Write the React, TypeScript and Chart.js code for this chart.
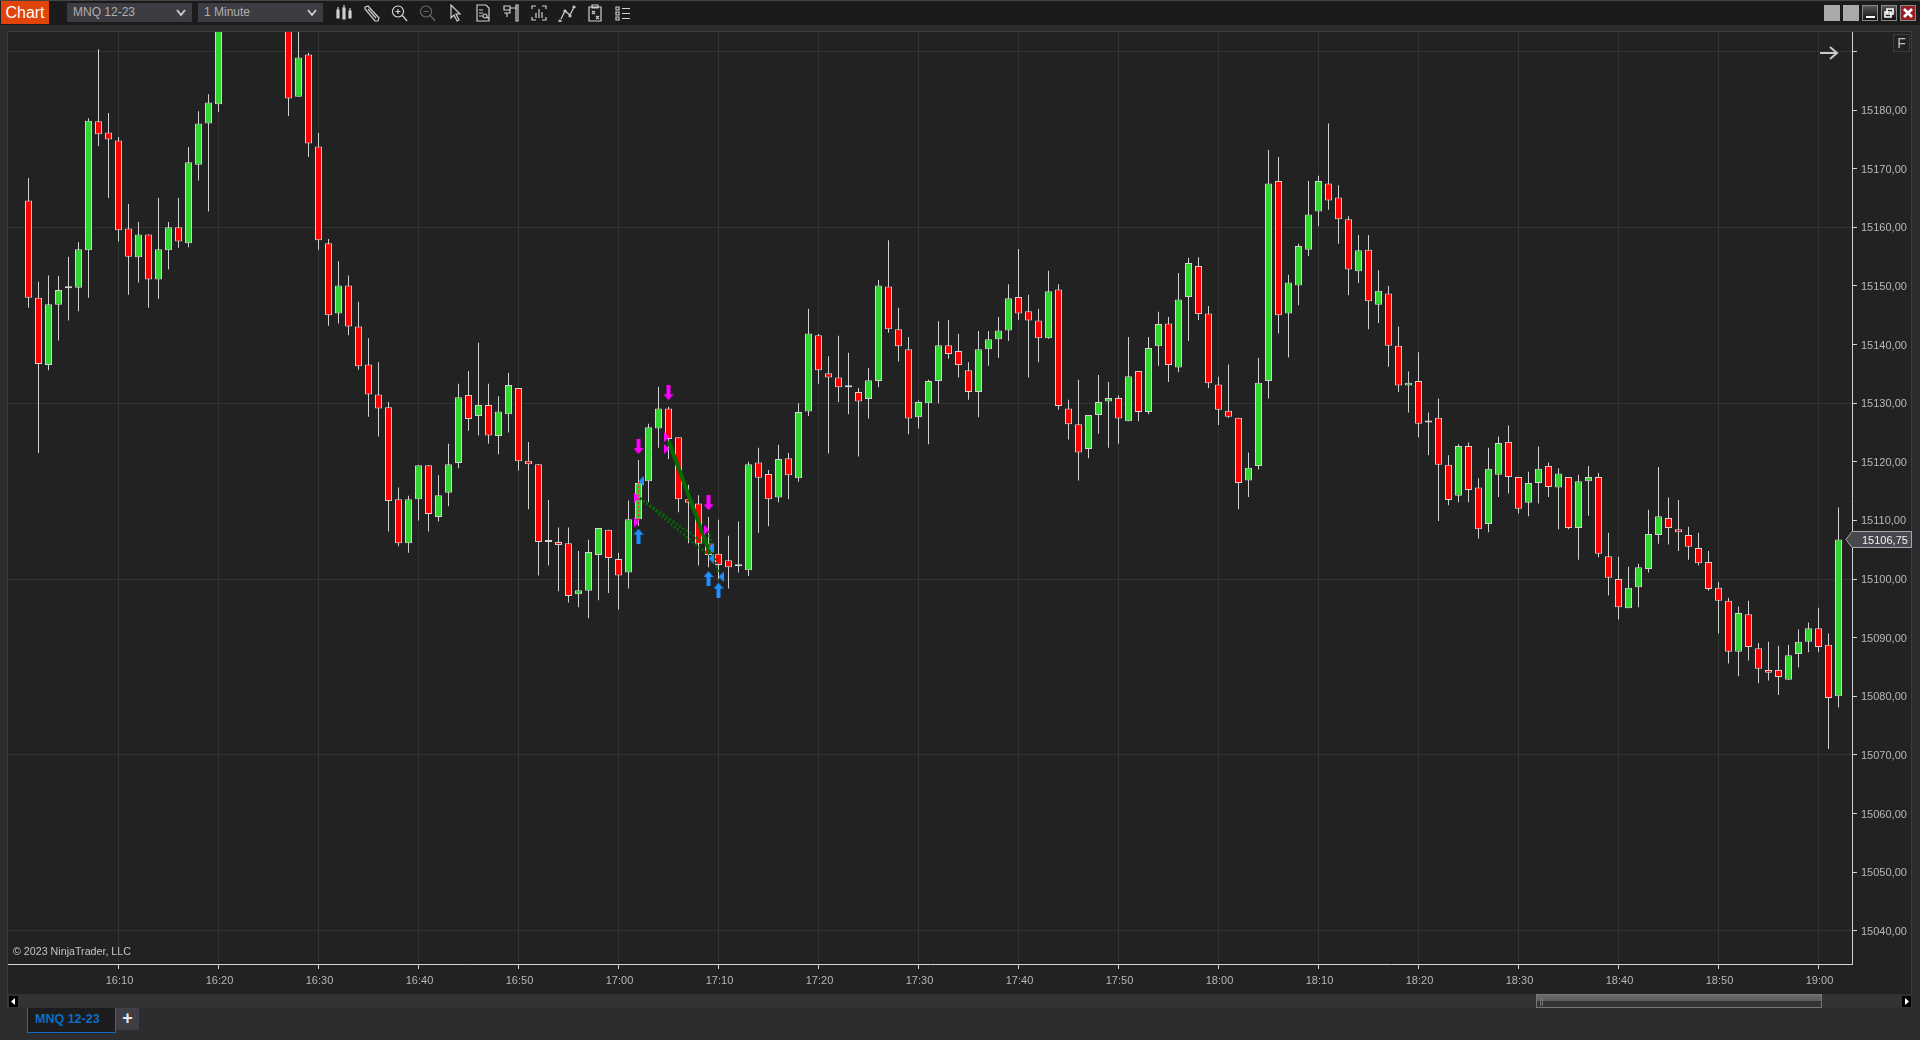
import { useEffect, useRef } from 'react';
import { Chart, registerables } from 'chart.js';

Chart.register(...registerables);

// 1 minute bars, first bar is 16:01. 16:21 - 16:26 sit above the visible range
const startMinute = 961;
// 16:10 is the first time label on the axis
const firstTimeTick = 970;

const opens = [
  15164.6, 15148, 15136.5, 15146.8, 15149.6, 15149.7, 15156.1, 15178.1, 15176.2, 15174.8,
  15159.8, 15154.9, 15158.8, 15151.1, 15156.1, 15160, 15157.3, 15170.7, 15177.7, 15181,
  15199.5, 15202, 15205, 15204, 15203, 15201, 15199, 15182.3, 15189.5, 15173.8,
  15157.3, 15145.3, 15150.1, 15143.1, 15136.6, 15131.5, 15129.3, 15113.6, 15106.1, 15113.6,
  15119.4, 15110.6, 15114.7, 15119.8, 15131.4, 15127.8, 15129.7, 15124.4, 15128.1, 15132.6,
  15120.2, 15119.6, 15106.3, 15106.3, 15106.1, 15097.4, 15098, 15104.1, 15108.4, 15103.4,
  15101.1, 15110.2, 15116.7, 15125.7, 15129.1, 15124.2, 15113.6, 15112.9, 15106.1, 15104.3,
  15103.2, 15102.2, 15101.5, 15119.9, 15117.9, 15113.9, 15120.6, 15117.2, 15128.6, 15141.6,
  15135.1, 15134.4, 15132.7, 15131.9, 15130.7, 15133.8, 15149.9, 15142.6, 15139.2, 15127.6,
  15130, 15133.8, 15139.9, 15138.9, 15135.6, 15131.9, 15139.2, 15140.9, 15142.4, 15148.1,
  15145.7, 15144.1, 15141.1, 15149.4, 15129.1, 15126.4, 15122.2, 15128, 15130.3, 15130.9,
  15126.9, 15135.5, 15128.5, 15139.7, 15143.6, 15136.1, 15148.1, 15153.4, 15145.3, 15133.2,
  15128.7, 15127.5, 15116.8, 15119.3, 15133.8, 15167.9, 15145.3, 15150.1, 15156.2, 15162.7,
  15167.5, 15165.1, 15161.4, 15152.5, 15156.2, 15146.8, 15148.7, 15139.8, 15133, 15133.8,
  15126.7, 15127.5, 15119.5, 15114.2, 15122.7, 15115.6, 15109.4, 15117.8, 15123.4, 15117.4,
  15113, 15116.4, 15119.3, 15115.6, 15117.4, 15108.7, 15116.7, 15117.4, 15103.9, 15100,
  15095, 15098.6, 15101.7, 15107.5, 15110.4, 15108.5, 15107.5, 15105.3, 15102.9, 15098.5,
  15096.3, 15087.6, 15094, 15088.2, 15084.5, 15084.5, 15082.8, 15087.2, 15089.3, 15091.6,
  15088.8, 15080,
];

const highs = [
  15168.4, 15150.7, 15151.8, 15151.7, 15155, 15157.5, 15178.6, 15190.4, 15179.5, 15175.4,
  15164, 15160.9, 15158.8, 15165, 15160.9, 15165, 15173.7, 15179.8, 15182.7, 15201,
  15204, 15207, 15209, 15208, 15206, 15204, 15201, 15196, 15189.8, 15176.1,
  15158, 15154.2, 15151.8, 15147.3, 15141.1, 15137, 15130.2, 15115.6, 15114.2, 15119.4,
  15119.4, 15117.7, 15123.1, 15133.3, 15135.5, 15140.3, 15133.3, 15131.2, 15135.2, 15132.6,
  15123.4, 15119.6, 15113.5, 15108.8, 15108.8, 15104.8, 15106.7, 15108.7, 15108.4, 15104.5,
  15113.4, 15120.3, 15126.5, 15132.8, 15129.4, 15124.2, 15116.1, 15114.3, 15110.6, 15110.1,
  15107.4, 15109.8, 15120, 15122.4, 15118.6, 15122.9, 15121.5, 15130, 15146.1, 15141.8,
  15138, 15141.5, 15138.6, 15132.6, 15136, 15151, 15157.8, 15146.3, 15141.3, 15130.5,
  15134, 15144, 15144.2, 15141.8, 15137, 15142.3, 15142.3, 15144.7, 15150.3, 15156.3,
  15148.5, 15146.1, 15152.6, 15150.3, 15130.6, 15134, 15128, 15134.8, 15133.6, 15131.3,
  15141.3, 15135.5, 15141.3, 15145.6, 15144.7, 15152.2, 15154.8, 15154.9, 15146.6, 15134.5,
  15136.6, 15127.5, 15121.6, 15137.7, 15173.2, 15172, 15151.9, 15157.2, 15167.9, 15168.8,
  15177.7, 15167.2, 15161.9, 15158.7, 15158.7, 15152.7, 15150, 15143.1, 15135.4, 15138.7,
  15128.4, 15130.8, 15121.1, 15123, 15123.3, 15117.2, 15122.4, 15124.3, 15126.2, 15117.4,
  15118.3, 15122.6, 15119.9, 15118.9, 15117.4, 15117.8, 15119.3, 15118.1, 15107.9, 15103.8,
  15102.1, 15102.6, 15111.8, 15119.1, 15113.9, 15113.5, 15108.9, 15107.9, 15104.8, 15099.5,
  15096.8, 15095.3, 15096.3, 15089.1, 15089.3, 15088.6, 15088.8, 15091.4, 15092.6, 15095.1,
  15090.7, 15112.2,
];

const lows = [
  15146.3, 15121.5, 15135.6, 15140.7, 15144.1, 15145.7, 15148, 15173.9, 15165, 15157.6,
  15148.5, 15150.6, 15146.3, 15147.8, 15152.8, 15156.5, 15156.6, 15168, 15162.7, 15179.7,
  15198, 15200, 15203, 15201, 15199.5, 15197, 15179, 15182.3, 15172, 15156.2,
  15143.2, 15143.6, 15141.6, 15135.7, 15127.7, 15124.3, 15108.1, 15105.6, 15104.5, 15110,
  15108.1, 15109.8, 15112.4, 15118.9, 15125.3, 15124.5, 15123.1, 15121.3, 15125, 15118.5,
  15111.9, 15100.6, 15102.3, 15097.9, 15096, 15095.2, 15093.3, 15096.4, 15097.6, 15094.8,
  15098.4, 15109.1, 15113.1, 15122.4, 15120.5, 15111.4, 15106.1, 15102.3, 15102, 15100,
  15098.4, 15101.1, 15100.5, 15107.9, 15109, 15113.1, 15113.6, 15116.6, 15127.8, 15133.3,
  15121.4, 15130.2, 15128.1, 15120.9, 15127.4, 15132.7, 15142, 15137.1, 15124.7, 15125.7,
  15123, 15130, 15137.6, 15134.4, 15130.6, 15127.6, 15136.4, 15137.7, 15140.6, 15144.2,
  15134.4, 15137, 15141, 15128.9, 15123.8, 15116.8, 15120.6, 15124.8, 15122.4, 15123.1,
  15126.9, 15126.9, 15128.1, 15136.4, 15133.6, 15135.3, 15140.6, 15144.2, 15132.6, 15126.3,
  15127.5, 15111.9, 15114, 15118.7, 15130.8, 15141.9, 15137.8, 15146.7, 15155.1, 15160.2,
  15163, 15157.2, 15148.4, 15150.5, 15142.6, 15143.7, 15136.2, 15131.9, 15128.4, 15124.2,
  15121.1, 15109.9, 15112.6, 15113.1, 15113.1, 15106.9, 15108, 15114, 15114.6, 15111.2,
  15110.7, 15112.9, 15114, 15108.5, 15108.5, 15103.3, 15110.8, 15103.7, 15097.2, 15093.1,
  15095, 15095.2, 15101.1, 15106, 15105.9, 15104.8, 15103.3, 15102.3, 15098, 15090.7,
  15085.6, 15083.4, 15086.1, 15082.2, 15082.7, 15080.2, 15082.8, 15084.9, 15087.5, 15087.5,
  15071, 15078.1,
];

const closes = [
  15148, 15136.7, 15146.9, 15149.3, 15149.6, 15156.25, 15178.2, 15175.9, 15175, 15159.5,
  15155, 15158.8, 15151.1, 15156.25, 15160, 15157.6, 15171.1, 15177.7, 15181.3, 15199.5,
  15202, 15205, 15204, 15203, 15201, 15199, 15182, 15189, 15174.3, 15157.8,
  15145, 15150.1, 15143.1, 15136.3, 15131.5, 15129.1, 15113.3, 15106.1, 15113.6, 15119.4,
  15111.1, 15114.3, 15119.6, 15131, 15127.3, 15129.7, 15124.5, 15128.6, 15133.1, 15120.1,
  15119.6, 15106.3, 15106.3, 15105.8, 15097.1, 15098.1, 15104.6, 15108.7, 15103.6, 15100.6,
  15110.2, 15116.4, 15125.9, 15129.1, 15123.9, 15113.6, 15113, 15106, 15104.1, 15102.4,
  15102, 15102.2, 15119.6, 15117.3, 15113.6, 15120.5, 15117.7, 15128.5, 15141.9, 15135.6,
  15134.4, 15132.7, 15132.7, 15130.3, 15133.9, 15150.1, 15142.6, 15139.7, 15127.4, 15130.2,
  15133.8, 15139.9, 15138.4, 15136.5, 15131.9, 15139.2, 15140.9, 15142.4, 15147.9, 15145.3,
  15144.1, 15141.1, 15149.1, 15129.5, 15126.4, 15121.6, 15128, 15130.2, 15130.9, 15127.4,
  15134.6, 15128.5, 15139.4, 15143.5, 15136.5, 15147.7, 15153.9, 15145.2, 15133.4, 15128.9,
  15127.7, 15116.4, 15119, 15133.5, 15167.5, 15145, 15150.6, 15156.8, 15162.2, 15167.9,
  15164.6, 15161.4, 15152.8, 15156.1, 15147.4, 15149.2, 15139.8, 15133, 15133.5, 15126.5,
  15127, 15119.5, 15113.5, 15122.7, 15115.2, 15108.5, 15118.8, 15123.2, 15117.4, 15112,
  15116.4, 15118.8, 15115.7, 15118, 15108.7, 15116.7, 15117.4, 15104.3, 15100.2, 15095.2,
  15098.5, 15102, 15107.7, 15110.7, 15108.7, 15108, 15105.5, 15102.7, 15098.3, 15096.3,
  15087.6, 15094.2, 15088.4, 15084.7, 15084, 15083.3, 15087, 15089.3, 15091.6, 15088.4,
  15079.7, 15106.75,
];

// order markers and drawn trade lines around 17:02 - 17:10
const sellArrows = [
  { x: 1022, y: 15122.6 },
  { x: 1025, y: 15131.8 },
  { x: 1029, y: 15113 },
];
const buyArrows = [
  { x: 1022, y: 15107.3 },
  { x: 1029, y: 15100.1 },
  { x: 1030, y: 15098.1 },
];
const sellFills = [
  { x: 1021.83, y: 15113.9 },
  { x: 1021.83, y: 15109.7 },
  { x: 1024.83, y: 15124.2 },
  { x: 1024.83, y: 15122.2 },
  { x: 1028.83, y: 15108.4 },
];
const buyFills = [
  { x: 1022.25, y: 15116.7 },
  { x: 1029.25, y: 15105.3 },
  { x: 1029.25, y: 15103.5 },
  { x: 1030.25, y: 15100.4 },
];
const winnerLines = [
  [{ x: 1022.15, y: 15113.8 }, { x: 1029, y: 15105.6 }],
  [{ x: 1022.15, y: 15113.8 }, { x: 1029, y: 15104.1 }],
  [{ x: 1029, y: 15108.2 }, { x: 1030, y: 15100.9 }],
];
const mainLine = [{ x: 1025, y: 15123.6 }, { x: 1029.17, y: 15104.3 }];
const loserLines = [
  [{ x: 1022, y: 15116.5 }, { x: 1022, y: 15110 }],
  [{ x: 1029.1, y: 15106 }, { x: 1029.6, y: 15102.6 }],
];

const lastPrice = 15106.75;
const instrument = 'MNQ 12-23';

const GREEN = '#33d333';
const RED = '#ff0000';
const OUTLINE = '#d3d3d3';
const GRID = '#333333';
const AXIS_TEXT = '#b8b8b8';
const FONT = '"Liberation Sans", Arial, sans-serif';

function fmtPrice(v: number) {
  return v.toFixed(2).replace('.', ',');
}

function fmtTime(m: number) {
  return `${Math.floor(m / 60)}:${String(m % 60).padStart(2, '0')}`;
}

function sprite(w: number, h: number, color: string, pts: number[][]) {
  const c = document.createElement('canvas');
  c.width = w;
  c.height = h;
  const g = c.getContext('2d')!;
  g.fillStyle = color;
  g.beginPath();
  pts.forEach(([x, y], i) => (i ? g.lineTo(x, y) : g.moveTo(x, y)));
  g.closePath();
  g.fill();
  return c;
}

const priceMarker = {
  id: 'priceMarker',
  afterDraw(chart: Chart) {
    const { ctx } = chart;
    const y = Math.round(chart.scales.y.getPixelForValue(lastPrice)) + 0.5;
    ctx.save();
    ctx.beginPath();
    ctx.moveTo(1846, y);
    ctx.lineTo(1852, y - 8);
    ctx.lineTo(1911.5, y - 8);
    ctx.lineTo(1911.5, y + 8);
    ctx.lineTo(1852, y + 8);
    ctx.closePath();
    ctx.fillStyle = '#47474d';
    ctx.fill();
    ctx.strokeStyle = '#a8a8a8';
    ctx.stroke();
    ctx.fillStyle = '#f2f2f2';
    ctx.font = `11px ${FONT}`;
    ctx.textBaseline = 'middle';
    ctx.fillText(fmtPrice(lastPrice), 1862, y + 1);
    ctx.restore();
  },
};

function CandleChart() {
  const canvasRef = useRef<HTMLCanvasElement>(null);

  useEffect(() => {
    if (!canvasRef.current) return;

    const minutes = opens.map((_, i) => startMinute + i);
    const bodyColors = opens.map((o, i) => (closes[i] >= o ? GREEN : RED));

    const downArrow = sprite(10, 15, '#ff00ff', [[3, 0], [7, 0], [7, 9], [10, 9], [5, 15], [0, 9], [3, 9]]);
    const upArrow = sprite(10, 15, '#1e90ff', [[5, 0], [10, 6], [7, 6], [7, 15], [3, 15], [3, 6], [0, 6]]);
    const rightTri = sprite(5, 10, '#ff00ff', [[0, 0], [5, 5], [0, 10]]);
    const leftTri = sprite(5, 10, '#1e90ff', [[5, 0], [0, 5], [5, 10]]);

    const markerSet = (data: { x: number; y: number }[], style: HTMLCanvasElement) => ({
      type: 'scatter' as const,
      data,
      order: 0,
      pointStyle: style,
      pointRadius: 5,
      clip: 0,
    });
    const lineSet = (data: { x: number; y: number }[], color: string, width: number, dash: number[]) => ({
      type: 'line' as const,
      data,
      order: 1,
      borderColor: color,
      borderWidth: width,
      borderDash: dash,
      pointRadius: 0,
      clip: 0,
    });

    const chart = new Chart(canvasRef.current, {
      type: 'bar',
      data: {
        datasets: [
          markerSet(sellArrows, downArrow),
          markerSet(buyArrows, upArrow),
          markerSet(sellFills, rightTri),
          markerSet(buyFills, leftTri),
          lineSet(mainLine, '#056b05', 4, []),
          ...winnerLines.map(l => lineSet(l, '#056b05', 2.5, [2, 2])),
          ...loserLines.map(l => lineSet(l, '#ff1f4f', 1.5, [2, 2])),
          {
            // bodies
            data: minutes.map((m, i) => ({ x: m, y: [opens[i], closes[i]] })),
            order: 2,
            grouped: false,
            barThickness: 7,
            minBarLength: 2,
            backgroundColor: bodyColors,
            borderColor: OUTLINE,
            borderWidth: 1,
            borderSkipped: false,
            inflateAmount: 0,
          },
          {
            // wicks
            data: minutes.map((m, i) => ({ x: m, y: [lows[i], highs[i]] })),
            order: 3,
            grouped: false,
            barThickness: 1,
            backgroundColor: OUTLINE,
            borderWidth: 0,
            inflateAmount: 0,
          },
        ] as any,
      },
      options: {
        animation: false,
        responsive: false,
        events: [],
        layout: { padding: { left: 8, top: 32, right: 0, bottom: 0 } },
        plugins: {
          legend: { display: false },
          tooltip: { enabled: false },
        },
        scales: {
          x: {
            type: 'linear',
            offset: false,
            min: 958.95,
            max: 1143.35,
            afterFit: (axis: any) => {
              axis.height = 76;
            },
            afterBuildTicks: (axis: any) => {
              axis.ticks = axis.ticks.filter((t: any) => t.value % 10 === 0 && t.value >= firstTimeTick);
            },
            border: { color: OUTLINE, width: 1 },
            grid: { color: GRID, tickColor: OUTLINE, tickLength: 5, offset: false },
            ticks: {
              stepSize: 10,
              includeBounds: false,
              autoSkip: false,
              maxRotation: 0,
              padding: 5,
              labelOffset: 1,
              color: AXIS_TEXT,
              font: { family: FONT, size: 11 },
              callback: value => fmtTime(Number(value)),
            },
          },
          y: {
            type: 'linear',
            position: 'right',
            min: 15034.32,
            max: 15193.33,
            afterFit: (axis: any) => {
              axis.width = 68;
            },
            afterBuildTicks: (axis: any) => {
              axis.ticks = axis.ticks.filter((t: any) => t.value % 10 === 0 && t.value >= axis.min && t.value <= axis.max);
            },
            border: { color: OUTLINE, width: 1 },
            grid: {
              color: ctx => (ctx.tick && ctx.tick.value % 30 === 10 ? GRID : 'transparent'),
              tickColor: OUTLINE,
              tickLength: 5,
            },
            ticks: {
              stepSize: 10,
              includeBounds: false,
              autoSkip: false,
              padding: 4,
              labelOffset: 1,
              color: AXIS_TEXT,
              font: { family: FONT, size: 11 },
              // the top tick has no label in the original, the F button sits there
              callback: value => (Number(value) === 15190 ? '' : fmtPrice(Number(value))),
            },
          },
        },
      },
      plugins: [priceMarker],
    } as any);

    return () => {
      chart.destroy();
    };
  }, []);

  return <canvas ref={canvasRef} width={1920} height={1040} style={{ position: 'absolute', left: 0, top: 0, display: 'block' }} />;
}

const toolbarIcons = [
  'M3 6v8M3 3v3M9 4v11M9 1v3M15 7v7M15 4v3M2 6h2v8H2zM8 4h2v11H8zM14 7h2v7h-2z',
  'M2 3l3-1 11 12-1 3-3 0L2 5z M5 5l8 9',
  'M7 2a5.5 5.5 0 1 0 .01 0M4.5 7.5h5M7 5v5M11 11l5 6',
  'M7 2a5.5 5.5 0 1 0 .01 0M4.5 7.5h5M11 11l5 6',
  'M5 1v13l3-3 3 6 2-1-3-6h4z',
  'M3 1h9l3 3v13H3zM5 6h4M5 9h4M5 12h4M11 10a2 2 0 1 0 .01 0M13 13l2 2',
  'M2 2h6v4H2zM8 4h7M14 1h2v16h-2zM2 9h6v-3M5 9v4',
  'M2 5V2h4M12 2h4v3M2 13v3h4M12 16h4v-3M6 14V9M9 14V5M12 14V8',
  'M2 16a1 1 0 1 0 .01 0M7 6a1 1 0 1 0 .01 0M12 11a1 1 0 1 0 .01 0M16 2a1 1 0 1 0 .01 0M3 15l4-8 5 4 4-8',
  'M3 3h12v14H3zM6 1h6v3H6zM6 7l3 3M9 7l-3 3M10 12l3 3M13 12l-3 3',
  'M2 3h3v3H2zM2 8h3v3H2zM2 13h3v3H2zM8 4.5h8M8 9.5h8M8 14.5h8',
];

function Toolbar() {
  const selectBox = (left: number, label: string) => (
    <div style={{ position: 'absolute', left, top: 2, width: 125, height: 19, background: '#3c3c42', color: '#aeaeae', font: `12px ${FONT}`, lineHeight: '19px', paddingLeft: 6, boxSizing: 'border-box' }}>
      {label}
      <svg width="10" height="8" style={{ position: 'absolute', right: 6, top: 6 }}>
        <path d="M1 1l4 5 4-5" fill="none" stroke="#c8c8c8" strokeWidth="2" />
      </svg>
    </div>
  );

  return (
    <div style={{ position: 'absolute', left: 0, top: 0, width: 1920, height: 25, background: '#1b1b1b', borderTop: '1px solid #444', boxSizing: 'border-box' }}>
      <div style={{ position: 'absolute', left: 1, top: 0, width: 48, height: 23, background: '#e0440a', color: '#fff', font: `16px ${FONT}`, lineHeight: '23px', textAlign: 'center' }}>Chart</div>
      {selectBox(67, instrument)}
      {selectBox(198, '1 Minute')}
      {toolbarIcons.map((d, i) => (
        <svg key={i} width="18" height="18" viewBox="0 0 18 18" style={{ position: 'absolute', left: 334.8 + i * 27.9, top: 3 }}>
          <path d={d} fill="none" stroke={i === 3 ? '#666' : '#cfcfcf'} strokeWidth="1.2" />
        </svg>
      ))}
      {[1824, 1843].map(left => (
        <div key={left} style={{ position: 'absolute', left, top: 4, width: 16, height: 16, background: '#aaa8a8' }} />
      ))}
      <div style={{ position: 'absolute', left: 1862, top: 4, width: 14, height: 14, background: 'linear-gradient(#555, #111)', border: '1px solid #888' }}>
        <div style={{ position: 'absolute', left: 3, top: 10, width: 9, height: 2, background: '#fff' }} />
      </div>
      <div style={{ position: 'absolute', left: 1881, top: 4, width: 14, height: 14, background: 'linear-gradient(#555, #111)', border: '1px solid #888' }}>
        <svg width="14" height="14" style={{ position: 'absolute', left: 0, top: 0 }}>
          <path d="M5 3h6v5H5zM3 6h6v5H3z" fill="#222" stroke="#fff" strokeWidth="1.6" />
        </svg>
      </div>
      <div style={{ position: 'absolute', left: 1900, top: 4, width: 14, height: 14, background: '#9a1f22', border: '1px solid #888' }}>
        <svg width="14" height="14" style={{ position: 'absolute', left: 0, top: 0 }}>
          <path d="M3 3l8 8M11 3l-8 8" stroke="#fff" strokeWidth="2.6" />
        </svg>
      </div>
    </div>
  );
}

function ScrollBar() {
  const arrowBox = (left: number, d: string) => (
    <svg width="9" height="11" style={{ position: 'absolute', left, top: 996, background: '#000' }}>
      <path d={d} fill="#fff" />
    </svg>
  );

  return (
    <>
      <div style={{ position: 'absolute', left: 8, top: 994, width: 1904, height: 14, background: '#333335' }} />
      {arrowBox(9, 'M6 2v7L2 5.5z')}
      {arrowBox(1902, 'M3 2v7l4-3.5z')}
      <div style={{ position: 'absolute', left: 1536, top: 994, width: 284, height: 12, background: 'linear-gradient(#6a6a6a 0, #5e5e5e 50%, #343436 50%)', border: '1px solid #777' }}>
        <div style={{ position: 'absolute', left: 3, top: 3, width: 3, height: 8, borderLeft: '1px solid #777', borderRight: '1px solid #777', boxSizing: 'border-box' }} />
      </div>
    </>
  );
}

export default function App() {
  return (
    <div style={{ position: 'relative', width: 1920, height: 1040, overflow: 'hidden', background: '#2d2d30' }}>
      <style>{'body{margin:0;background:#2d2d30;overflow:hidden}'}</style>
      <div style={{ position: 'absolute', left: 7, top: 31, width: 1905, height: 977, background: '#222222', border: '1px solid #3c3c3f', boxSizing: 'border-box' }} />
      <ScrollBar />
      <CandleChart />
      <Toolbar />
      <svg width="20" height="16" style={{ position: 'absolute', left: 1819, top: 45 }}>
        <path d="M1 8h17M11 2l7 6-7 6" fill="none" stroke="#c8c8c8" strokeWidth="2" />
      </svg>
      <div style={{ position: 'absolute', left: 1893, top: 34, width: 17, height: 18, border: '1px solid #3c3c40', boxSizing: 'border-box', color: '#b9c4cc', font: `14px ${FONT}`, lineHeight: '17px', textAlign: 'center' }}>F</div>
      <div style={{ position: 'absolute', left: 13, top: 944, color: '#c4c4c4', font: `10.7px ${FONT}`, lineHeight: '14px' }}>© 2023 NinjaTrader, LLC</div>
      <div style={{ position: 'absolute', left: 27, top: 1008, width: 89, height: 25, boxSizing: 'border-box', background: '#1c1c1e', border: '1px solid #0a70c8', borderTop: 'none', color: '#0a6fc2', font: `bold 12.5px ${FONT}`, lineHeight: '22px', paddingLeft: 7 }}>{instrument}</div>
      <div style={{ position: 'absolute', left: 116, top: 1008, width: 23, height: 22, background: '#3e3e44', color: '#e8e8e8', font: `bold 18px ${FONT}`, lineHeight: '21px', textAlign: 'center' }}>+</div>
    </div>
  );
}
